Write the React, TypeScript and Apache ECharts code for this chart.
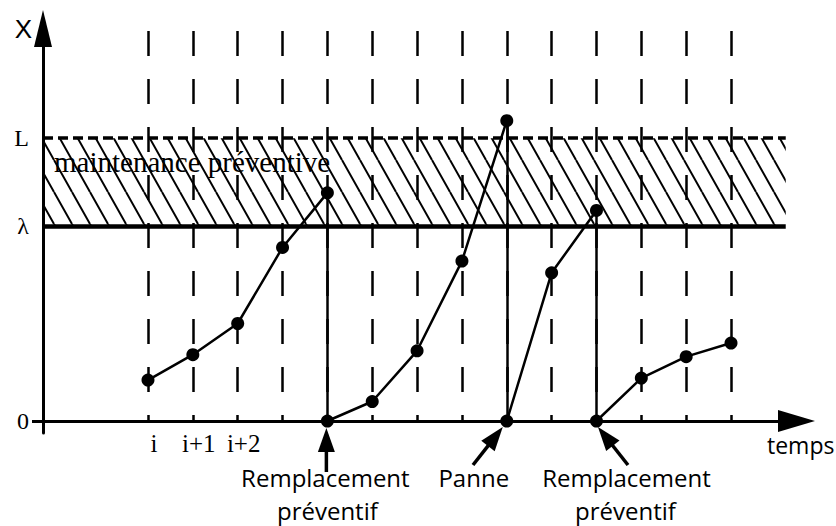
import React, { useEffect, useRef } from "react";
import * as echarts from "echarts";

// ---- data (value units: arbitrary degradation level X, time steps) ----
const timeSteps = [0, 1, 2, 3, 4, 5, 6, 7, 8, 9, 10, 11, 12, 13];
const xTickValues = [0, 1, 2];
const xTickLabels = ["i", "i+1", "i+2"];
const yTickValues = [0, 10, 14.5];
const yTickLabels = ["0", "λ", "L"];
const lambdaLevel = 10;
const limitL = 14.5;
const gridTopLevel = 20;

const run1: number[][] = [[0, 2.1], [1, 3.4], [2, 5.0], [3, 8.9], [4, 11.7]];
const run2: number[][] = [[4, 0], [5, 1.0], [6, 3.6], [7, 8.2], [8, 15.4]];
const run3: number[][] = [[8, 0], [9, 7.6], [10, 10.8]];
const run4: number[][] = [[10, 0], [11, 2.2], [12, 3.3], [13, 4.0]];
const runs = [run1, run2, run3, run4];
const endedRuns = [run1, run2, run3];

// events annotated below the time axis (time step of the renewal point)
const eventSteps = [4, 8, 10];
const eventLabels = [["Remplacement", "préventif"], ["Panne"], ["Remplacement", "préventif"]];

// ---- layout (not data) ----
const X_MIN = -2.341;
const X_MAX = 14.46;
const BAND_END = 14.22;
const Y_MIN = -0.615;
const Y_MAX = 20.128;

// pixel offsets of arrow tip / tail from the event point, and label centres
const arrowOffsets = [
  { tip: [-1, 7], tail: [-1, 51] },
  { tip: [-4, 6], tail: [-33.8, 44] },
  { tip: [1.5, 6], tail: [31.5, 44] },
];
const labelOffsets = [
  [[-2, 56], [0, 89]],
  [[-33, 56]],
  [[30, 56], [29, 89]],
];

const SERIF = "'Liberation Serif', 'Times New Roman', serif";
const SANS = "'Open Sans', 'Noto Sans', sans-serif";

function makeHatch(): HTMLCanvasElement {
  const w = 18;
  const h = 32;
  const c = document.createElement("canvas");
  c.width = w;
  c.height = h;
  const ctx = c.getContext("2d")!;
  ctx.strokeStyle = "#000";
  ctx.lineWidth = 2;
  for (const off of [-w, 0, w]) {
    ctx.beginPath();
    ctx.moveTo(off, 0);
    ctx.lineTo(off + w, h);
    ctx.stroke();
  }
  return c;
}

export default function App() {
  const ref = useRef<HTMLDivElement>(null);

  useEffect(() => {
    if (!ref.current) return;
    const chart = echarts.init(ref.current, undefined, { renderer: "svg" });
    const hatch = makeHatch();

    const dataSeries = runs.map((run, idx) => {
      const s: any = {
        type: "line",
        name: "run" + idx,
        data: run,
        z: 5,
        clip: false,
        symbol: "circle",
        symbolSize: 13,
        silent: true,
        itemStyle: { color: "#000" },
        lineStyle: { color: "#000", width: 2.5 },
      };
      return s;
    });

    const option: any = {
      animation: false,
      backgroundColor: "#fff",
      grid: {
        left: 43,
        right: 39.5,
        top: 28.5,
        bottom: 93,
        containLabel: false,
        outerBoundsMode: "none",
      },
      xAxis: {
        type: "value",
        min: X_MIN,
        max: X_MAX,
        name: "temps",
        nameLocation: "end",
        nameGap: -29.5,
        nameTextStyle: {
          fontFamily: SANS,
          fontSize: 23,
          color: "#000",
          align: "left",
          verticalAlign: "top",
          padding: [12, 0, 0, 0],
        },
        axisLine: {
          show: true,
          onZero: true,
          symbol: ["none", "triangle"],
          symbolSize: [22, 37],
          lineStyle: { color: "#000", width: 3 },
        },
        axisTick: { show: false },
        splitLine: { show: false },
        axisLabel: {
          show: true,
          customValues: xTickValues,
          formatter: (v: number) => xTickLabels[xTickValues.indexOf(Math.round(v))] ?? "",
          fontFamily: SERIF,
          fontSize: 25,
          color: "#000",
          margin: -2,
          padding: [0, 0, 0, 12],
        },
      },
      yAxis: {
        type: "value",
        min: Y_MIN,
        max: Y_MAX,
        name: "X",
        nameLocation: "end",
        nameGap: 0,
        nameTextStyle: {
          fontFamily: "'Liberation Sans', Arial, sans-serif",
          fontSize: 26,
          color: "#000",
          align: "right",
          verticalAlign: "middle",
          padding: [0, 11, 0, 0],
        },
        axisLine: {
          show: true,
          onZero: false,
          symbol: ["none", "triangle"],
          symbolSize: [18, 37],
          lineStyle: { color: "#000", width: 3 },
        },
        axisTick: {
          show: true,
          customValues: [0],
          length: 11,
          lineStyle: { color: "#000", width: 3 },
        },
        splitLine: { show: false },
        axisLabel: {
          show: true,
          customValues: yTickValues,
          formatter: (v: number) => {
            const i = yTickValues.findIndex((t) => Math.abs(t - v) < 1e-6);
            return i >= 0 ? yTickLabels[i] : "";
          },
          fontFamily: SERIF,
          fontSize: 24,
          color: "#000",
          margin: 14,
        },
      },
      series: [
        {
          type: "line",
          name: "band",
          data: [],
          z: 1,
          clip: false,
          silent: true,
          markArea: {
            silent: true,
            itemStyle: {
              color: {
                image: hatch,
                repeat: "repeat",
                imageWidth: 18,
                imageHeight: 32,
              },
              borderWidth: 0,
            },
            label: {
              show: true,
              position: [11, 9],
              formatter: "maintenance préventive",
              fontFamily: SERIF,
              fontSize: 29,
              color: "#000",
            },
            emphasis: { disabled: true },
            data: [[{ coord: [X_MIN, lambdaLevel] }, { coord: [BAND_END, limitL] }]],
          },
        },
        {
          type: "line",
          name: "grid-lines",
          data: [],
          z: 2,
          clip: false,
          silent: true,
          markLine: {
            silent: true,
            symbol: ["none", "none"],
            label: { show: false },
            emphasis: { disabled: true },
            lineStyle: { color: "#000", width: 2.5, type: [25, 23] },
            data: timeSteps.map((k) => [{ coord: [k, gridTopLevel] }, { coord: [k, 0] }]),
          },
        },
        {
          type: "line",
          name: "levels",
          data: [],
          z: 3,
          clip: false,
          silent: true,
          markLine: {
            silent: true,
            symbol: ["none", "none"],
            label: { show: false },
            emphasis: { disabled: true },
            data: [
              [
                { coord: [X_MIN, lambdaLevel], lineStyle: { color: "#000", width: 4.5, type: "solid" } },
                { coord: [BAND_END, lambdaLevel] },
              ],
              [
                { coord: [X_MIN, limitL], lineStyle: { color: "#000", width: 3.5, type: [10, 5] } },
                { coord: [BAND_END, limitL] },
              ],
            ],
          },
        },
        {
          type: "line",
          name: "renewals",
          data: [],
          z: 4,
          clip: false,
          silent: true,
          markLine: {
            silent: true,
            symbol: ["none", "none"],
            label: { show: false },
            emphasis: { disabled: true },
            lineStyle: { color: "#000", width: 2.5, type: "solid" },
            data: endedRuns.map((run) => {
              const last = run[run.length - 1];
              return [{ coord: [last[0], 0] }, { coord: [last[0], last[1]] }];
            }),
          },
        },
        ...dataSeries,
      ],
    };

    chart.setOption(option);

    // annotations: arrows and texts anchored on the event points via the chart's scales
    const graphics: any[] = [];
    eventSteps.forEach((k, i) => {
      const p = chart.convertToPixel({ gridIndex: 0 }, [k, 0]) as number[];
      const off = arrowOffsets[i];
      const tip = [p[0] + off.tip[0], p[1] + off.tip[1]];
      const tail = [p[0] + off.tail[0], p[1] + off.tail[1]];
      const dx = tip[0] - tail[0];
      const dy = tip[1] - tail[1];
      const len = Math.hypot(dx, dy);
      const ux = dx / len;
      const uy = dy / len;
      const headLen = 24;
      const headHalf = 8.5;
      const base = [tip[0] - ux * headLen, tip[1] - uy * headLen];
      graphics.push({
        type: "line",
        silent: true,
        z: 100,
        shape: { x1: tail[0], y1: tail[1], x2: base[0] + ux * 2, y2: base[1] + uy * 2 },
        style: { stroke: "#000", lineWidth: 3.5 },
      });
      graphics.push({
        type: "polygon",
        silent: true,
        z: 100,
        shape: {
          points: [
            tip,
            [base[0] - uy * headHalf, base[1] + ux * headHalf],
            [base[0] + uy * headHalf, base[1] - ux * headHalf],
          ],
        },
        style: { fill: "#000" },
      });
      eventLabels[i].forEach((txt, j) => {
        const lo = labelOffsets[i][j];
        graphics.push({
          type: "text",
          silent: true,
          z: 100,
          x: p[0] + lo[0],
          y: p[1] + lo[1],
          style: {
            text: txt,
            fontFamily: SANS,
            fontSize: 24,
            lineHeight: 28,
            fill: "#000",
            align: "center",
            verticalAlign: "middle",
          },
        });
      });
    });
    chart.setOption({ graphic: graphics });

    return () => {
      chart.dispose();
    };
  }, []);

  return (
    <div
      ref={ref}
      style={{ position: "fixed", left: 0, top: 0, width: 836, height: 526, background: "#fff" }}
    />
  );
}
